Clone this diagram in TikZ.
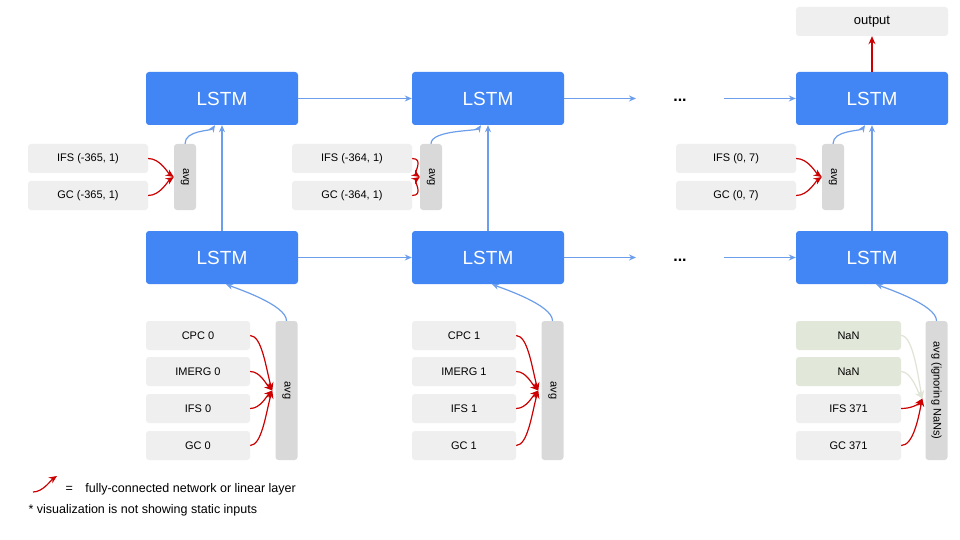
\documentclass[tikz,border=0pt]{standalone}
\usepackage{fontspec}
\setmainfont{Liberation Sans}
\usetikzlibrary{arrows.meta}
\definecolor{lblue}{HTML}{4285F4}
\definecolor{ablue}{HTML}{6D9EEB}
\definecolor{gbox}{HTML}{EFEFEF}
\definecolor{gavg}{HTML}{D9D9D9}
\definecolor{nanbox}{HTML}{E2E8D9}
\definecolor{nanarr}{HTML}{E0E4D6}
\definecolor{rred}{HTML}{CC0000}
\begin{document}
\begin{tikzpicture}[x=1pt,y=-1pt,
 lstm/.style={fill=lblue,rounded corners=3pt,text=white,minimum width=152pt,minimum height=53pt,font=\fontsize{19}{19}\selectfont,inner sep=0pt},
 inp/.style={fill=gbox,rounded corners=3pt,minimum height=29pt,font=\fontsize{11}{11}\selectfont,inner sep=0pt},
 avgb/.style={fill=gavg,rounded corners=3pt,minimum width=22pt,inner sep=0pt,font=\fontsize{11}{11}\selectfont},
 barr/.style={ablue,line width=1.2pt,-{Stealth[length=7pt,width=6pt]}},
 rarr/.style={rred,line width=1.2pt,-{Stealth[length=8pt,width=7pt]}},
 narr/.style={nanarr,line width=1.2pt,-{Stealth[length=8pt,width=7pt]}}]
\fill[white] (0,0) rectangle (960,540);
% LSTMs
\node[lstm] (t1) at (222,98.5) {LSTM};
\node[lstm] (t2) at (488,98.5) {LSTM};
\node[lstm] (t3) at (872,98.5) {LSTM};
\node[lstm] (b1) at (222,257.5) {LSTM};
\node[lstm] (b2) at (488,257.5) {LSTM};
\node[lstm] (b3) at (872,257.5) {LSTM};
\node[inp,minimum width=152pt,font=\fontsize{13}{13}\selectfont] (out) at (872,21.5) {output};
\node[font=\fontsize{16}{16}\selectfont\bfseries] (d1) at (680,100) {...};
\node[font=\fontsize{16}{16}\selectfont\bfseries] (d2) at (680,260) {...};
\coordinate (h1a) at (636,98.5); \coordinate (h1b) at (724,98.5);
\coordinate (h2a) at (636,257.5); \coordinate (h2b) at (724,257.5);
\draw[barr] (t1.east) -- (t2.west);
\draw[barr] (t2.east) -- (h1a);
\draw[barr] (h1b) -- (t3.west);
\draw[barr] (b1.east) -- (b2.west);
\draw[barr] (b2.east) -- (h2a);
\draw[barr] (h2b) -- (b3.west);
\foreach \i in {1,2,3}{\draw[barr] (b\i.north) -- (t\i.south);}
\draw[rarr] (t3.north) -- (out.south);
% top inputs
\foreach \i/\x/\ax/\lab in {1/88/185/{-365, 1},2/352/431/{-364, 1},3/736/833/{0, 7}}{
 \node[inp,minimum width=120pt] (ti\i) at (\x,158.5) {IFS (\lab)};
 \node[inp,minimum width=120pt] (tg\i) at (\x,195.5) {GC (\lab)};
 \node[avgb,minimum height=66pt] (ta\i) at (\ax,177) {\rotatebox{-90}{avg}};
 \draw[rarr] (ti\i.east) .. controls +(12,0) and +(-6,-4) .. (ta\i.west);
 \draw[rarr] (tg\i.east) .. controls +(12,0) and +(-6,4) .. (ta\i.west);
 \draw[barr] (ta\i.north) .. controls +(0,-14) and +(-4,6) .. ([xshift=-7pt]t\i.south);
}
% bottom inputs
\node[inp,minimum width=104pt] (c1) at (198,335.5) {CPC 0};
\node[inp,minimum width=104pt] (m1) at (198,371.5) {IMERG 0};
\node[inp,minimum width=104pt] (f1) at (198,408.5) {IFS 0};
\node[inp,minimum width=104pt] (g1) at (198,445.5) {GC 0};
\node[avgb,minimum height=139pt] (a1) at (286.5,390.5) {\rotatebox{-90}{avg}};
\node[inp,minimum width=104pt] (c2) at (464,335.5) {CPC 1};
\node[inp,minimum width=104pt] (m2) at (464,371.5) {IMERG 1};
\node[inp,minimum width=104pt] (f2) at (464,408.5) {IFS 1};
\node[inp,minimum width=104pt] (g2) at (464,445.5) {GC 1};
\node[avgb,minimum height=139pt] (a2) at (552.5,390.5) {\rotatebox{-90}{avg}};
\node[inp,minimum width=105pt,fill=nanbox] (c3) at (848.5,335.5) {NaN};
\node[inp,minimum width=105pt,fill=nanbox] (m3) at (848.5,371.5) {NaN};
\node[inp,minimum width=105pt] (f3) at (848.5,408.5) {IFS 371};
\node[inp,minimum width=105pt] (g3) at (848.5,445.5) {GC 371};
\node[avgb,minimum height=139pt] (a3) at (936.5,390.5) {\rotatebox{-90}{avg (ignoring NaNs)}};
\foreach \i in {1,2}{
 \coordinate (e\i) at ([xshift=-3pt]a\i.west);
 \draw[rarr] (c\i.east) .. controls +(12,0) and +(-6,-20) .. (e\i);
 \draw[rarr] (m\i.east) .. controls +(10,0) and +(-6,-6) .. (e\i);
 \draw[rarr] (f\i.east) .. controls +(10,0) and +(-6,6) .. (e\i);
 \draw[rarr] (g\i.east) .. controls +(12,0) and +(-6,20) .. (e\i);
}
\coordinate (e3) at ([xshift=-3pt,yshift=-8pt]a3.west);
\draw[narr] (c3.east) .. controls +(12,0) and +(-4,-20) .. (e3);
\draw[narr] (m3.east) .. controls +(10,0) and +(-4,-6) .. (e3);
\draw[rarr] (f3.east) .. controls +(10,0) and +(-4,6) .. (e3);
\draw[rarr] (g3.east) .. controls +(12,0) and +(-4,20) .. (e3);
\foreach \i in {1,2,3}{
 \draw[barr] (a\i.north) .. controls +(0,-16) and +(10,4) .. ([xshift=4pt]b\i.south);
}
% legend
\coordinate (l1) at (33,492); \coordinate (l2) at (57,476);
\draw[rarr] (l1) .. controls +(10,0) and +(-6,4) .. (l2);
\node[anchor=west,font=\fontsize{12.5}{12.5}\selectfont] (lt) at (62,489) {=\quad fully-connected network or linear layer};
\node[anchor=west,font=\fontsize{12.5}{12.5}\selectfont] (lt2) at (25,510) {* visualization is not showing static inputs};
\end{tikzpicture}
\end{document}
